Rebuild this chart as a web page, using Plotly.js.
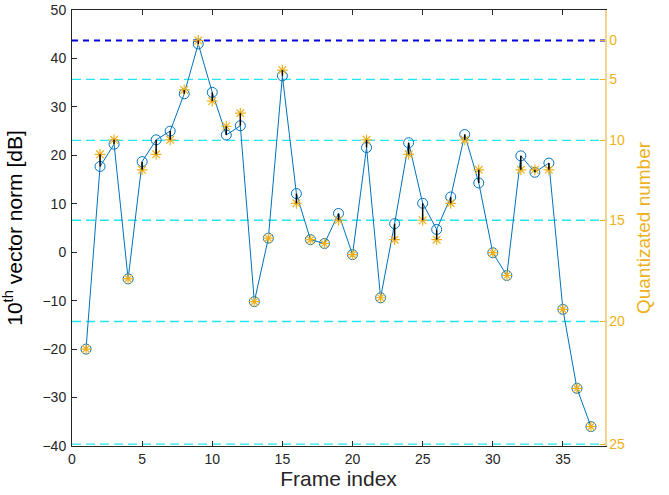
<!DOCTYPE html>
<html><head><meta charset="utf-8">
<script src="https://cdn.plot.ly/plotly-3.0.1.min.js"></script>
<style>html,body{margin:0;padding:0;background:#fff}#chart{width:669px;height:495px}</style>
</head><body><div id="chart"></div>
<script>
const frames = Array.from({length:37},(_,i)=>i+1);
const normDb = [-20.0,17.7,22.3,-5.5,18.7,23.2,25.0,32.7,43.0,33.0,24.2,26.1,-10.2,2.9,36.4,12.1,2.6,1.8,8.0,-0.5,21.6,-9.4,5.9,22.6,10.1,4.7,11.4,24.3,14.3,-0.1,-4.8,19.9,16.5,18.4,-11.8,-28.1,-36.0];
const quantDb = [-20.0,20.2,23.2,-5.5,17.0,20.2,23.2,33.5,43.7,31.2,26.0,28.7,-10.2,2.9,37.6,10.1,2.6,1.8,6.6,-0.5,23.2,-9.4,2.6,20.2,6.6,2.6,10.1,23.2,17.0,-0.1,-4.8,17.0,17.0,17.0,-11.8,-28.1,-36.0];
const levelNumbers = [0,5,10,15,20,25];
const levelDb = [43.7,35.7,23.1,6.6,-14.3,-39.6];
const xTicks = [0,5,10,15,20,25,30,35];
const yTicks = [-40,-30,-20,-10,0,10,20,30,40,50];

const traces = [];
levelDb.forEach((v,k)=>{
  traces.push({x:[0,38], y:[v,v], mode:'lines', hoverinfo:'skip', showlegend:false,
    line:{color: k===0 ? '#0000E0' : '#22E6F0', width: k===0 ? 2 : 1.3, dash: k===0 ? '6px,5px' : '9px,5px'}});
});
traces.push({x:frames, y:normDb, mode:'lines+markers', showlegend:false,
  line:{color:'#0072BD', width:1},
  marker:{symbol:'circle-open', size:10, color:'#0072BD', line:{width:1}}});
traces.push({x:frames, y:quantDb, mode:'markers', showlegend:false,
  marker:{symbol:'asterisk-open', size:9, color:'#EDB120', line:{width:1.2, color:'#EDB120'}}});
const ex=[], ey=[];
frames.forEach((f,i)=>{ ex.push(f,f,null); ey.push(normDb[i], quantDb[i], null); });
traces.push({x:ex, y:ey, mode:'lines', showlegend:false, line:{color:'#000', width:1.5}});
traces.push({x:[0], y:[0], yaxis:'y2', mode:'markers', marker:{opacity:0}, showlegend:false, hoverinfo:'skip'});
traces.push({x:[0], y:[0], yaxis:'y3', mode:'markers', marker:{opacity:0}, showlegend:false, hoverinfo:'skip'});

const layout = {
  width:669, height:495,
  margin:{l:72, r:64, t:10, b:49},
  paper_bgcolor:'#fff', plot_bgcolor:'#fff',
  font:{family:'Liberation Sans, Arial, sans-serif', color:'#262626', size:14},
  xaxis:{range:[0,38], tickvals:xTicks, ticks:'inside', ticklen:5, tickcolor:'#262626',
    showline:true, linecolor:'#262626', linewidth:1, mirror:'ticks', showgrid:false, zeroline:false,
    tickfont:{size:14, color:'#262626'},
    title:{text:'Frame index', font:{size:21, color:'#262626'}, standoff:4}},
  yaxis:{range:[-40,50], tickvals:yTicks, ticks:'outside', ticklen:0, ticklabelstandoff:2,
    showline:true, linecolor:'#262626', linewidth:1, showgrid:false, zeroline:false,
    tickfont:{size:14, color:'#262626'},
    title:{text:'10<sup>th</sup> vector norm [dB]', font:{size:21, color:'#000'}, standoff:18}},
  yaxis3:{overlaying:'y', side:'left', range:[-40,50], tickvals:yTicks, ticks:'inside', ticklen:5,
    tickcolor:'#262626', showticklabels:false, showline:false, showgrid:false, zeroline:false},
  yaxis2:{overlaying:'y', side:'right', range:[-40,50], tickvals:levelDb, ticktext:levelNumbers.map(String),
    ticks:'inside', ticklen:5, tickcolor:'#EDB120', showline:true, linecolor:'#F3D48A', linewidth:1.5,
    showgrid:false, zeroline:false, tickfont:{color:'#EDB120', size:14},
    title:{text:'Quantizated number', font:{size:19, color:'#EDB120'}, standoff:12}}
};
Plotly.newPlot('chart', traces, layout, {displayModeBar:false, staticPlot:true});
</script></body></html>
